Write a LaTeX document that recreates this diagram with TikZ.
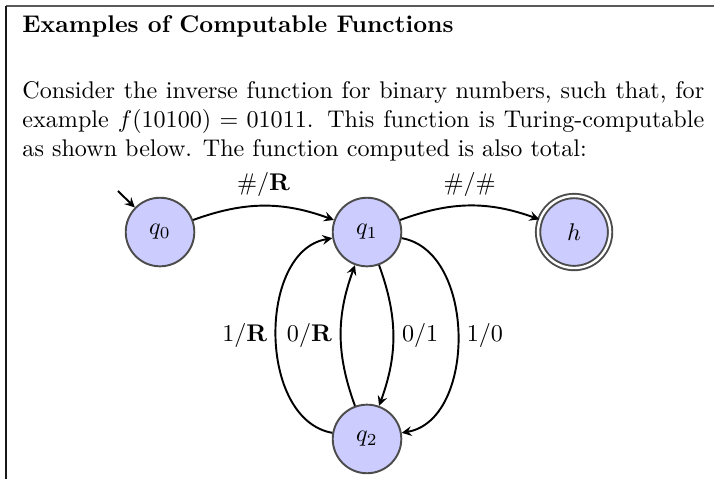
\documentclass[tikz,border=0pt]{standalone}
\usepackage{amsmath, amssymb}
\usepackage{tikz}
\usetikzlibrary{calc}
\usepackage{xcolor}

\begin{document}
\begin{tikzpicture}[
    x=1cm,
    y=1cm,
    every node/.style={font=\normalsize},
    state/.style={circle, draw=black!70, thick, fill=blue!20, minimum size=1cm, inner sep=0pt},
    accept/.style={state, double=white, double distance=1pt, minimum size=1.05cm},
    trans/.style={->, thick},
    frame/.style={line width=0.8pt},
    >=stealth
]
    \useasboundingbox (0,0) rectangle (10.41,-6.985);
    \draw[frame, black!65] (0.09,-0.09) -- (10.41,-0.09);
    \draw[frame, black!90] (0.09,-0.09) -- (0.09,-6.985);

    \node[anchor=base west, inner sep=0pt, font=\bfseries] (title) at (0.321,-0.467) {Examples of Computable Functions};
    \node[anchor=base west, inner sep=0pt, text width=9.94cm, align=justify] (intro) at (0.321,-1.443)
        {Consider the inverse function for binary numbers, such that, for example $f(10100)=01011$. This function is Turing-computable as shown below. The function computed is also total:};

    \node[state] (q0) at (2.333,-3.383) {$q_0$};
    \node[state] (q1) at (5.351,-3.383) {$q_1$};
    \node[accept] (h) at (8.37,-3.383) {$h$};
    \node[state] (q2) at (5.351,-6.40) {$q_2$};
    \coordinate (start) at (1.72,-2.785);

    \draw[trans] (start) -- (q0);
    \draw[trans] (q0) to[bend left=20] node[auto] {$\#/\mathbf{R}$} (q1);
    \draw[trans] (q1) to[bend left=20] node[auto] {$\#/\#$} (h);
    \draw[trans] (q1) to[bend left=20] node[auto] {$0/1$} (q2);
    \draw[trans] (q1) to[out=-10, in=10] node[auto] {$1/0$} (q2);
    \draw[trans] (q2) to[bend left=20] node[auto] {$0/\mathbf{R}$} (q1);
    \draw[trans] (q2) to[out=170, in=190] node[auto] {$1/\mathbf{R}$} (q1);
\end{tikzpicture}
\end{document}
